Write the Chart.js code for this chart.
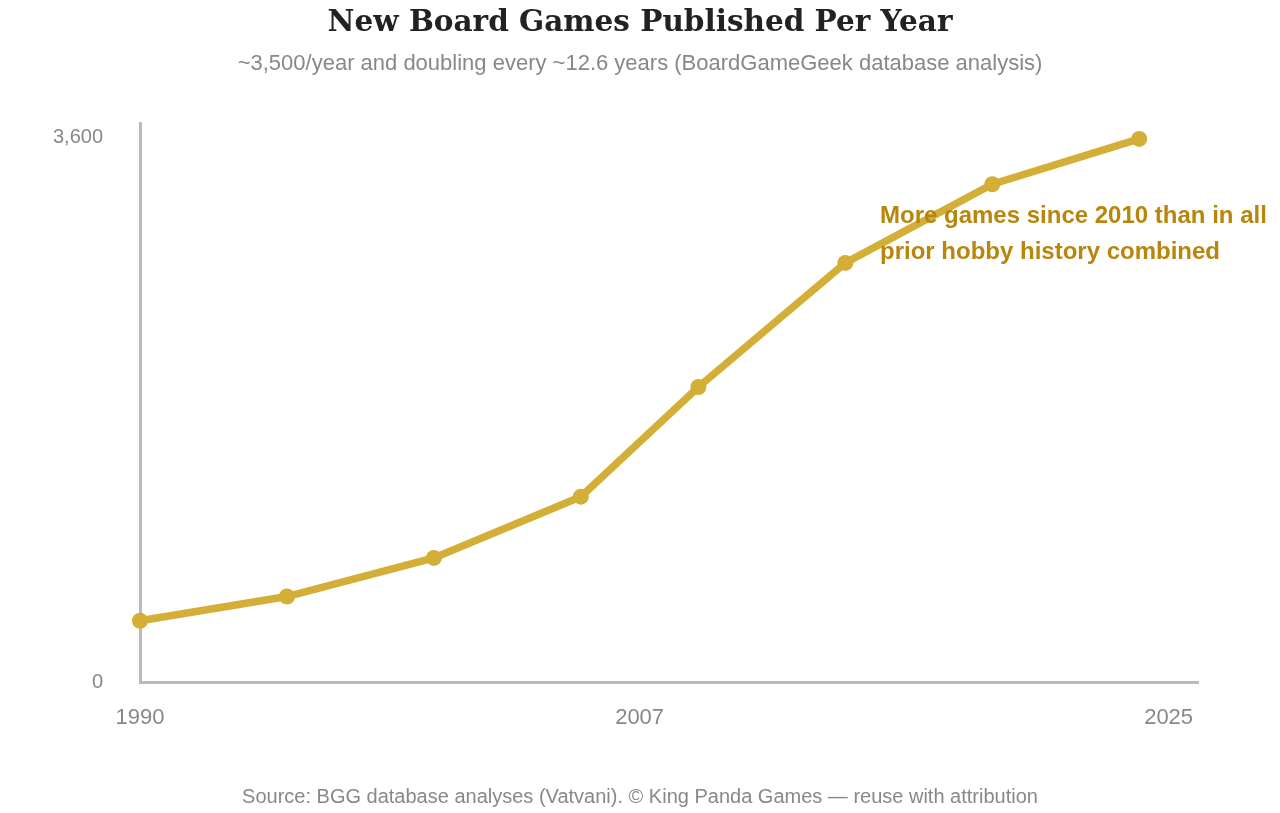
<!DOCTYPE html>
<html>
<head>
<meta charset="utf-8">
<title>New Board Games Published Per Year</title>
<script src="https://cdn.jsdelivr.net/npm/chart.js@4.4.1/dist/chart.umd.min.js"></script>
<style>
  html, body { margin: 0; padding: 0; background: #fff; }
  #wrap { width: 1280px; height: 813px; }
</style>
</head>
<body>
<div id="wrap"><canvas id="gamesChart" width="1280" height="813"></canvas></div>
<script>
// data
const years = [1990, 1995, 2000, 2005, 2009, 2014, 2019, 2024];
const gamesPerYear = [405, 565, 820, 1225, 1950, 2770, 3290, 3590];
const xTickValues = [1990, 2007, 2025];
const yTickValues = [0, 3600];

const titleText = 'New Board Games Published Per Year';
const subtitleText = '~3,500/year and doubling every ~12.6 years (BoardGameGeek database analysis)';
const footerText = 'Source: BGG database analyses (Vatvani). \u00A9 King Panda Games \u2014 reuse with attribution';
const noteLines = ['More games since 2010 than in all', 'prior hobby history combined'];

const gold = '#d4af37';
const noteColor = '#b8860b';
const grey = '#888888';
const sans = '"Liberation Sans", Arial, Helvetica, sans-serif';

// titles, footer and the annotation are plain canvas text
const textPlugin = {
    id: 'textPlugin',
    afterDraw(chart) {
        const c = chart.ctx;
        c.save();
        c.textAlign = 'center';
        c.textBaseline = 'middle';

        c.fillStyle = '#222';
        c.font = 'bold 29.5px "DejaVu Serif", Georgia, serif';
        c.fillText(titleText, 640, 23);

        c.fillStyle = grey;
        c.font = '22px ' + sans;
        c.fillText(subtitleText, 640, 64);

        c.font = '20px ' + sans;
        c.fillText(footerText, 640, 797);

        c.textAlign = 'left';
        c.fillStyle = noteColor;
        c.font = 'bold 24px ' + sans;
        noteLines.forEach((line, i) => c.fillText(line, 880, 216 + i * 36));
        c.restore();
    }
};

const ctx = document.getElementById('gamesChart').getContext('2d');
const gamesChart = new Chart(ctx, {
    type: 'line',
    data: {
        datasets: [{
            label: 'New games',
            data: years.map((y, i) => ({ x: y, y: gamesPerYear[i] })),
            borderColor: gold,
            backgroundColor: gold,
            pointBackgroundColor: gold,
            pointBorderWidth: 0,
            pointRadius: 8,
            borderWidth: 7.5,
            tension: 0,
            fill: false,
            clip: false
        }]
    },
    options: {
        responsive: false,
        animation: false,
        devicePixelRatio: 1,
        layout: { padding: { top: 123, right: 82, bottom: 53, left: 0 } },
        plugins: {
            legend: { display: false },
            tooltip: { enabled: false },
            title: { display: false }
        },
        scales: {
            x: {
                type: 'linear',
                min: 1990,
                max: 2026,
                afterBuildTicks: s => { s.ticks = xTickValues.map(v => ({ value: v })); },
                afterFit: s => { s.height = 78; },
                grid: { display: false, drawTicks: false },
                border: { display: true, color: '#bbbbbb', width: 3 },
                ticks: {
                    autoSkip: false,
                    maxRotation: 0,
                    padding: 23,
                    color: grey,
                    font: { family: sans, size: 22 },
                    callback: v => String(v)
                }
            },
            y: {
                min: 0,
                max: 3695,
                afterBuildTicks: s => { s.ticks = yTickValues.map(v => ({ value: v })); },
                afterFit: s => { s.width = 140; },
                grid: { display: false, drawTicks: false },
                border: { display: true, color: '#bbbbbb', width: 3 },
                ticks: {
                    padding: 37,
                    color: grey,
                    font: { family: sans, size: 20 },
                    callback: v => v.toLocaleString('en-US')
                }
            }
        }
    },
    plugins: [textPlugin]
});
</script>
</body>
</html>
